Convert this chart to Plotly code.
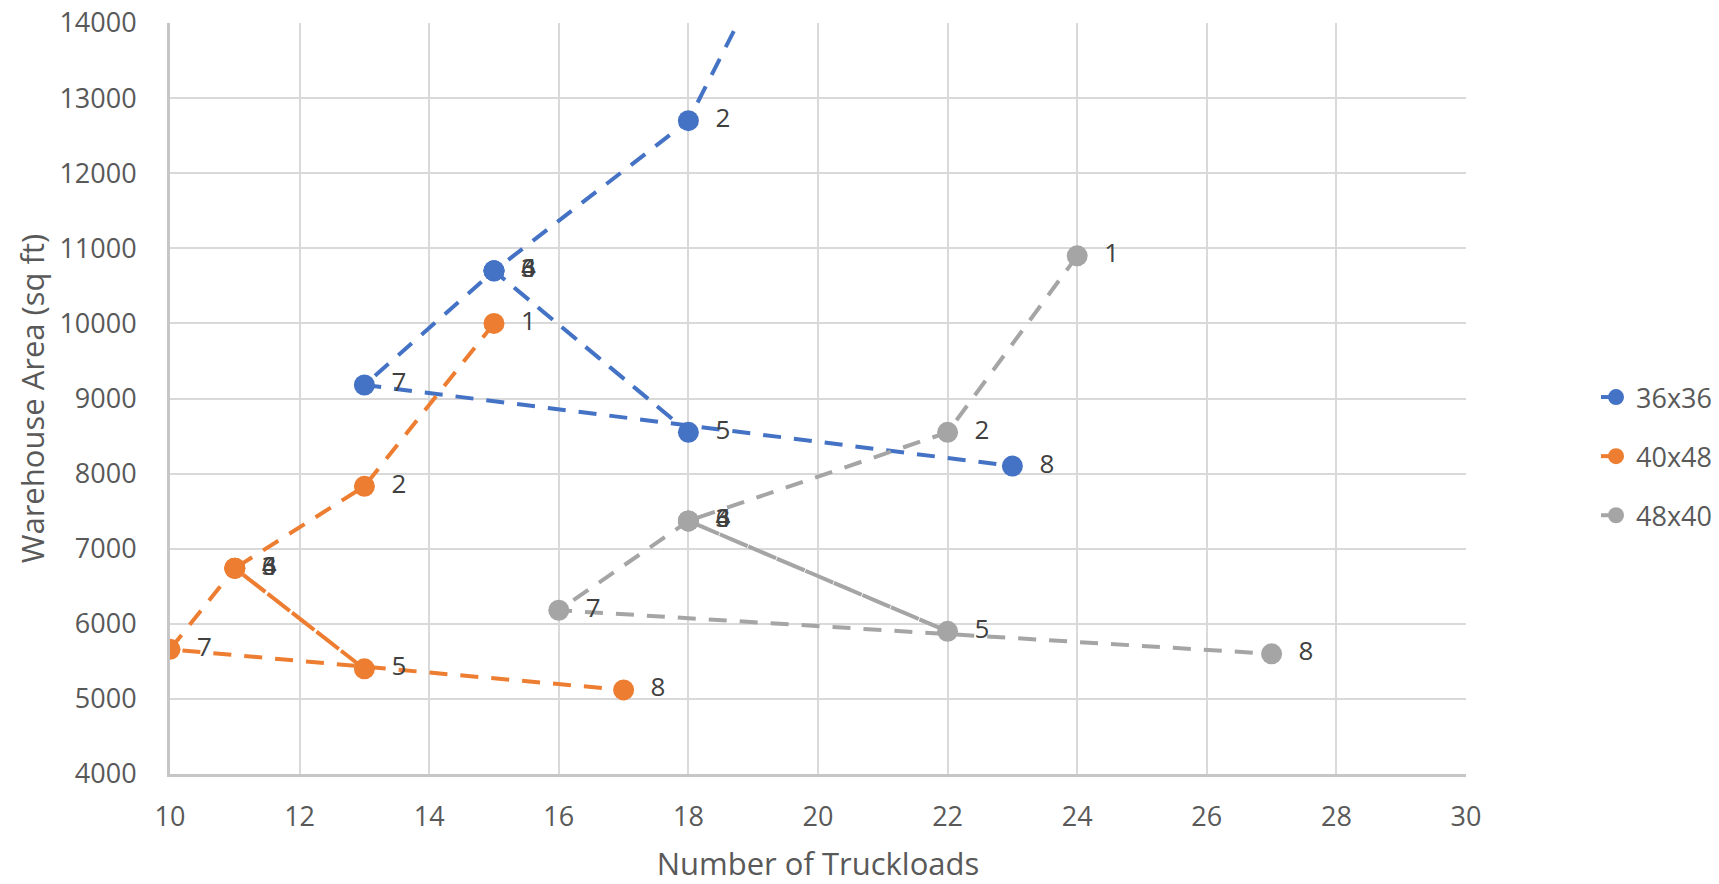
import plotly.graph_objects as go

# Warehouse area needed for each pallet size, by number of truckloads.
# Points are in scenario order 1..8 for every pallet size.
point_labels = ["1", "2", "3", "4", "5", "6", "7", "8"]

truckloads_36x36 = [20, 18, 15, 15, 18, 15, 13, 23]
area_36x36 = [16100, 12700, 10700, 10700, 8550, 10700, 9180, 8100]

truckloads_40x48 = [15, 13, 11, 11, 13, 11, 10, 17]
area_40x48 = [10000, 7830, 6740, 6740, 5400, 6740, 5660, 5120]

truckloads_48x40 = [24, 22, 18, 18, 22, 18, 16, 27]
area_48x40 = [10900, 8550, 7370, 7370, 5900, 7370, 6180, 5600]

series = [
    ("36x36", truckloads_36x36, area_36x36, "#4472C4"),
    ("40x48", truckloads_40x48, area_40x48, "#ED7D31"),
    ("48x40", truckloads_48x40, area_48x40, "#A5A5A5"),
]

Y_MIN, Y_MAX = 4000, 14000
FONT = "Open Sans, Noto Sans, sans-serif"
TEXT_GREY = "#595959"

fig = go.Figure()

for name, xs, ys, color in series:
    fig.add_trace(go.Scatter(
        x=xs, y=ys, name=name, legendgroup=name,
        mode="lines+markers",
        line=dict(color=color, width=4, dash="18px,13px"),
        marker=dict(color=color, size=21),
        cliponaxis=True,
    ))

# Scenario number next to each point (points above the axis are left unlabelled)
for name, xs, ys, color in series:
    labels = ["\u00a0\u00a0\u00a0\u00a0" + t if Y_MIN <= y <= Y_MAX else ""
              for t, y in zip(point_labels, ys)]
    fig.add_trace(go.Scatter(
        x=xs, y=ys, mode="text", showlegend=False, legendgroup=name,
        text=labels,
        textposition="middle right",
        textfont=dict(family=FONT, size=26, color="#404040"),
        cliponaxis=True, hoverinfo="skip",
    ))

fig.update_layout(
    width=1719, height=884,
    margin=dict(l=170, r=253, t=23, b=110, autoexpand=False),
    paper_bgcolor="white", plot_bgcolor="white",
    font=dict(family=FONT, color=TEXT_GREY, size=27),
    legend=dict(
        xref="container", yref="container",
        x=1596 / 1719, y=1 - 373 / 884,
        xanchor="left", yanchor="top",
        font=dict(family=FONT, size=27, color=TEXT_GREY),
        tracegroupgap=21,
        bgcolor="rgba(0,0,0,0)",
    ),
    showlegend=True,
)

fig.update_xaxes(
    range=[10, 30], dtick=2, tick0=10, automargin=False,
    showgrid=True, gridcolor="#D9D9D9", gridwidth=2,
    showline=True, linecolor="#C6C6C6", linewidth=3,
    zeroline=False, ticks="", ticklabelstandoff=17,
    tickfont=dict(family=FONT, size=27, color=TEXT_GREY),
    title=dict(text="Number of Truckloads", standoff=28,
               font=dict(family=FONT, size=31, color=TEXT_GREY)),
)

fig.update_yaxes(
    range=[Y_MIN, Y_MAX], dtick=1000, tick0=Y_MIN, tickformat="d",
    automargin=False,
    showgrid=True, gridcolor="#D9D9D9", gridwidth=2,
    showline=True, linecolor="#C6C6C6", linewidth=3,
    zeroline=False, ticks="", ticklabelstandoff=25,
    tickfont=dict(family=FONT, size=27, color=TEXT_GREY),
    title=dict(text="Warehouse Area (sq ft)", standoff=6,
               font=dict(family=FONT, size=31, color=TEXT_GREY)),
)

fig.write_html("out.html")
